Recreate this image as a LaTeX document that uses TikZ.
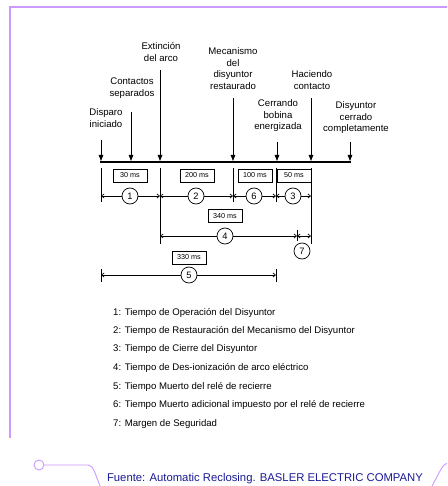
\documentclass[tikz,border=0pt]{standalone}
\usepackage{fontspec}
\setmainfont{Liberation Sans}
\usetikzlibrary{arrows.meta}
\definecolor{framec}{RGB}{204,153,255}
\definecolor{srcc}{RGB}{25,25,150}
\tikzset{
 lbl/.style={font=\fontsize{9.6}{11.5}\selectfont, align=center, inner sep=0},
 evarrow/.style={line width=0.8pt, -{Triangle[length=6pt,width=4.5pt]}},
 timeline/.style={line width=1.8pt},
 tickline/.style={line width=0.7pt},
 dimline/.style={line width=0.7pt, {Straight Barb[length=2.5pt,width=4pt]}-{Straight Barb[length=2.5pt,width=4pt]}},
 num/.style={circle, draw, line width=0.7pt, fill=white, minimum size=16pt, inner sep=0, font=\fontsize{9.3}{9.3}\selectfont},
 msbox/.style={draw, line width=0.7pt, fill=white, minimum width=34pt, minimum height=13pt, inner sep=0, font=\fontsize{7.2}{7.2}\selectfont},
 legend/.style={anchor=west, inner sep=0, font=\fontsize{9.6}{9.6}\selectfont},
 deco/.style={draw=framec, line width=1pt},
}
\begin{document}
\begin{tikzpicture}[x=1pt,y=-1pt]
\useasboundingbox (0,0) rectangle (447,486);
\clip (0,0) rectangle (447,486);
% frame decoration
\coordinate (fTL) at (10,7);
\coordinate (fTR) at (448,7);
\coordinate (fBL) at (10,438);
\draw[deco, line width=1.6pt] (fBL) -- (fTL) -- (fTR);
\node[circle, draw=framec, line width=0.9pt, minimum size=10pt, inner sep=0] (ring) at (39,465) {};
\coordinate (d1) at (88,465);
\coordinate (d2) at (101,488);
\draw[deco, line width=0.9pt] (ring.east) -- (d1) .. controls (94,465) and (95,475) .. (d2);
\coordinate (r1) at (431,488);
\coordinate (r2) at (448,463);
\draw[deco, line width=0.9pt] (r1) -- (440,471) .. controls (442,467) and (444,464) .. (r2);

% timeline
\coordinate (tl0) at (100,162);
\coordinate (tl1) at (351,162);
\draw[timeline] (tl0) -- (tl1);

% event arrows
\foreach \n/\x/\top in {e1/101/140, e2/131/112, e3/160/70, e4/233/98, e5/277/142, e6/311/98, e7/350/142}{
  \coordinate (\n top) at (\x,\top);
  \coordinate (\n bot) at (\x,161);
  \draw[evarrow] (\n top) -- (\n bot);
}
% event labels
\node[lbl] (L1) at (106,118) {Disparo\\iniciado};
\node[lbl] (L2) at (132,88) {Contactos\\separados};
\node[lbl] (L3) at (161,52) {Extinción\\del arco};
\node[lbl] (L4) at (233,68.5) {Mecanismo\\del\\disyuntor\\restaurado};
\node[lbl] (L5) at (278,116) {Cerrando\\bobina\\energizada};
\node[lbl] (L6) at (312,80) {Haciendo\\contacto};
\node[lbl] (L7) at (356,118) {Disyuntor\\cerrado\\completamente};

% ticks
\foreach \n/\x/\a/\b in {k1/101/168/202, k2/160/168/244, k3/233/168/202, k4/276/168/202, k5/311/168/244, k6/297/230/241, k7/101/269/282, k8/276/269/282}{
  \coordinate (\n a) at (\x,\a);
  \coordinate (\n b) at (\x,\b);
  \draw[tickline] (\n a) -- (\n b);
}
% dimension rows
\coordinate (p1) at (101,196);
\coordinate (p2) at (160,196);
\coordinate (p3) at (233,196);
\coordinate (p4) at (276,196);
\coordinate (p5) at (311,196);
\coordinate (q1) at (160,236);
\coordinate (q2) at (297,236);
\coordinate (q3) at (311,236);
\coordinate (s1) at (101,275);
\coordinate (s2) at (276,275);
\draw[dimline] (p1) -- (p2);
\draw[dimline] (p2) -- (p3);
\draw[dimline] (p3) -- (p4);
\draw[dimline] (p4) -- (p5);
\draw[dimline] (q1) -- (q2);
\draw[dimline] (q2) -- (q3);
\draw[dimline] (s1) -- (s2);

% numbered circles
\node[num] (c1) at (130,196) {1};
\node[num] (c2) at (196,196) {2};
\node[num] (c6) at (254,196) {6};
\node[num] (c3) at (293,196) {3};
\node[num] (c4) at (225,236) {4};
\node[num] (c7) at (302,251) {7};
\node[num] (c5) at (189,275) {5};

% ms boxes
\node[msbox] (b1) at (130,175.5) {30 ms};
\node[msbox] (b2) at (197,175.5) {200 ms};
\node[msbox] (b3) at (255,175.5) {100 ms};
\node[msbox] (b4) at (294,175.5) {50 ms};
\node[msbox] (b5) at (225,216) {340 ms};
\node[msbox] (b6) at (189,257.5) {330 ms};

% legend
\node[legend] (g1) at (113,313) {1: Tiempo de Operación del Disyuntor};
\node[legend] (g2) at (113,331) {2: Tiempo de Restauración del Mecanismo del Disyuntor};
\node[legend] (g3) at (113,349.5) {3: Tiempo de Cierre del Disyuntor};
\node[legend] (g4) at (113,368) {4: Tiempo de Des-ionización de arco eléctrico};
\node[legend] (g5) at (113,386.5) {5: Tiempo Muerto del relé de recierre};
\node[legend] (g6) at (113,405) {6: Tiempo Muerto adicional impuesto por el relé de recierre};
\node[legend] (g7) at (113,424) {7: Margen de Seguridad};

% source
\node[inner sep=0, text=srcc, font=\fontsize{11.3}{11.3}\selectfont] (src) at (265,479) {Fuente: Automatic Reclosing. BASLER ELECTRIC COMPANY};
\end{tikzpicture}
\end{document}
